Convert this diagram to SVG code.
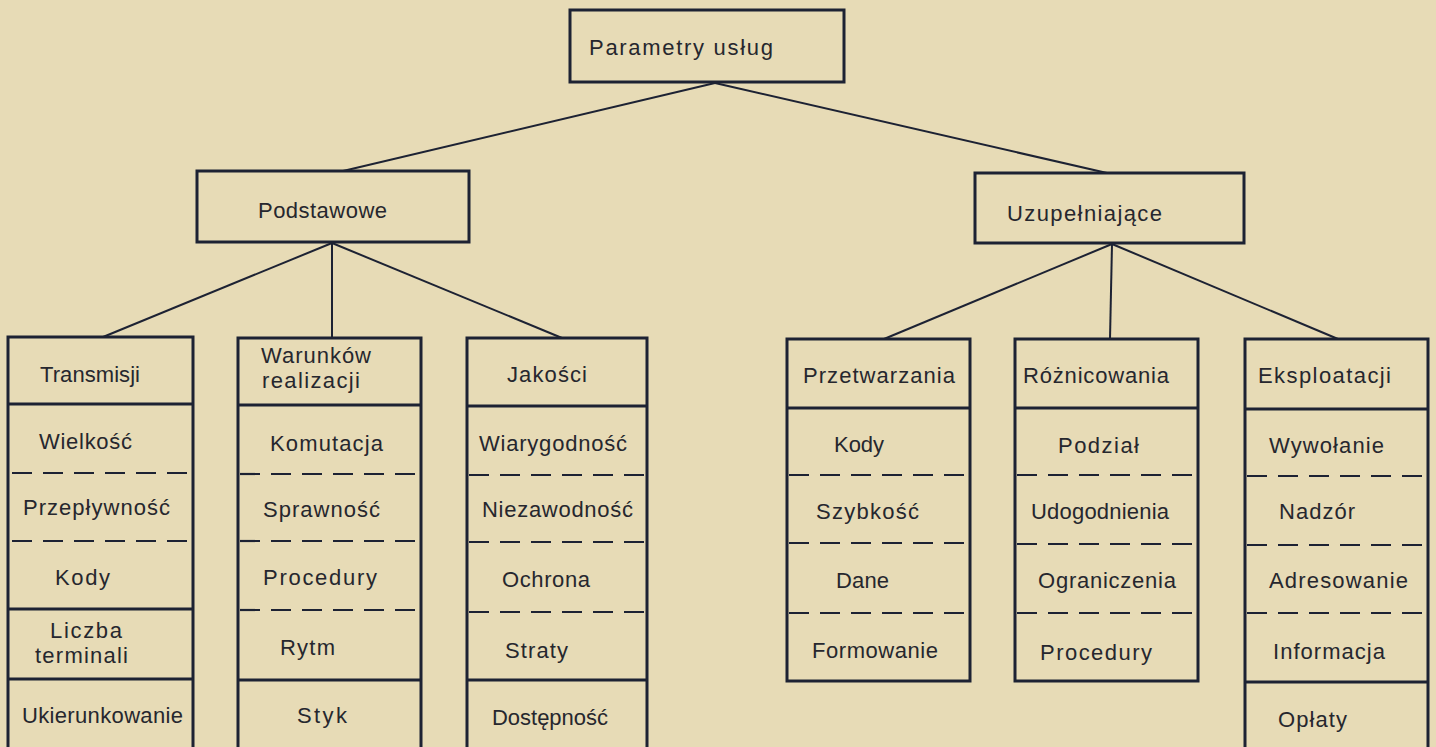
<svg xmlns="http://www.w3.org/2000/svg" width="1436" height="747" viewBox="0 0 1436 747">
<style>
.bg{fill:#e7dbb6}
.box{fill:none;stroke:#1d2233;stroke-width:3}
.sep{stroke:#1d2233;stroke-width:3}
.dash{stroke:#1d2233;stroke-width:2.2;stroke-dasharray:20 11}
.con{stroke:#1d2233;stroke-width:2;fill:none}
text{font-family:"Liberation Sans",Arial,sans-serif;font-size:22px;fill:#26272e}
</style>
<rect class="bg" x="0" y="0" width="1436" height="747"/>
<g id="connectors">
<line class="con" x1="715" y1="83" x2="343" y2="171"/>
<line class="con" x1="715" y1="83" x2="1107" y2="173"/>
<line class="con" x1="332" y1="243" x2="103" y2="337"/>
<line class="con" x1="332" y1="243" x2="332" y2="338"/>
<line class="con" x1="332" y1="243" x2="562" y2="338"/>
<line class="con" x1="1112" y1="244" x2="884" y2="339"/>
<line class="con" x1="1112" y1="244" x2="1110" y2="339"/>
<line class="con" x1="1112" y1="244" x2="1338" y2="339"/>
</g>
<g id="node-parametry">
<rect class="box" x="570" y="10" width="274" height="72"/>
<text x="589" y="55" textLength="184">Parametry usług</text>
</g>
<g id="node-podstawowe">
<rect class="box" x="197" y="171" width="272" height="71"/>
<text x="258" y="218" textLength="129">Podstawowe</text>
</g>
<g id="node-uzupelniajace">
<rect class="box" x="975" y="173" width="269" height="70"/>
<text x="1007" y="221" textLength="155">Uzupełniające</text>
</g>
<g id="node-transmisji">
<path class="box" d="M8,760 V337 H193 V760"/>
<line class="sep" x1="8" y1="404" x2="193" y2="404"/>
<line class="dash" x1="12" y1="473" x2="193" y2="473"/>
<line class="dash" x1="12" y1="541" x2="193" y2="541"/>
<line class="sep" x1="8" y1="609" x2="193" y2="609"/>
<line class="sep" x1="8" y1="679" x2="193" y2="679"/>
<text x="40" y="382" textLength="100">Transmisji</text>
<text x="39" y="449" textLength="93">Wielkość</text>
<text x="23" y="515" textLength="147">Przepływność</text>
<text x="55" y="585" textLength="55">Kody</text>
<text x="50" y="638" textLength="72">Liczba</text>
<text x="35" y="663" textLength="93">terminali</text>
<text x="22" y="723" textLength="161">Ukierunkowanie</text>
</g>
<g id="node-warunkow">
<path class="box" d="M238,760 V338 H421 V760"/>
<line class="sep" x1="238" y1="405" x2="421" y2="405"/>
<line class="dash" x1="240" y1="474" x2="421" y2="474"/>
<line class="dash" x1="240" y1="541" x2="421" y2="541"/>
<line class="dash" x1="240" y1="610" x2="421" y2="610"/>
<line class="sep" x1="238" y1="680" x2="421" y2="680"/>
<text x="261" y="363" textLength="110">Warunków</text>
<text x="262" y="388" textLength="98">realizacji</text>
<text x="270" y="451" textLength="113">Komutacja</text>
<text x="263" y="517" textLength="117">Sprawność</text>
<text x="263" y="585" textLength="114">Procedury</text>
<text x="280" y="655" textLength="55">Rytm</text>
<text x="297" y="723" textLength="50">Styk</text>
</g>
<g id="node-jakosci">
<path class="box" d="M467,760 V338 H647 V760"/>
<line class="sep" x1="467" y1="406" x2="647" y2="406"/>
<line class="dash" x1="469" y1="475" x2="647" y2="475"/>
<line class="dash" x1="469" y1="542" x2="647" y2="542"/>
<line class="dash" x1="469" y1="612" x2="647" y2="612"/>
<line class="sep" x1="467" y1="680" x2="647" y2="680"/>
<text x="507" y="382" textLength="80">Jakości</text>
<text x="479" y="451" textLength="148">Wiarygodność</text>
<text x="482" y="517" textLength="151">Niezawodność</text>
<text x="502" y="587" textLength="88">Ochrona</text>
<text x="505" y="658" textLength="63">Straty</text>
<text x="492" y="725" textLength="116">Dostępność</text>
</g>
<g id="node-przetwarzania">
<rect class="box" x="787" y="339" width="183" height="342"/>
<line class="sep" x1="787" y1="408" x2="970" y2="408"/>
<line class="dash" x1="789" y1="475" x2="970" y2="475"/>
<line class="dash" x1="789" y1="543" x2="970" y2="543"/>
<line class="dash" x1="789" y1="613" x2="970" y2="613"/>
<text x="803" y="383" textLength="152">Przetwarzania</text>
<text x="834" y="452" textLength="50">Kody</text>
<text x="816" y="519" textLength="103">Szybkość</text>
<text x="836" y="588" textLength="53">Dane</text>
<text x="812" y="658" textLength="126">Formowanie</text>
</g>
<g id="node-roznicowania">
<rect class="box" x="1015" y="339" width="183" height="342"/>
<line class="sep" x1="1015" y1="408" x2="1198" y2="408"/>
<line class="dash" x1="1017" y1="475" x2="1198" y2="475"/>
<line class="dash" x1="1017" y1="544" x2="1198" y2="544"/>
<line class="dash" x1="1017" y1="613" x2="1198" y2="613"/>
<text x="1023" y="383" textLength="146">Różnicowania</text>
<text x="1058" y="453" textLength="81">Podział</text>
<text x="1031" y="519" textLength="138">Udogodnienia</text>
<text x="1038" y="588" textLength="138">Ograniczenia</text>
<text x="1040" y="660" textLength="112">Procedury</text>
</g>
<g id="node-eksploatacji">
<path class="box" d="M1245,760 V339 H1428 V760"/>
<line class="sep" x1="1245" y1="409" x2="1428" y2="409"/>
<line class="dash" x1="1247" y1="476" x2="1428" y2="476"/>
<line class="dash" x1="1247" y1="545" x2="1428" y2="545"/>
<line class="dash" x1="1247" y1="613" x2="1428" y2="613"/>
<line class="sep" x1="1245" y1="682" x2="1428" y2="682"/>
<text x="1258" y="383" textLength="133">Eksploatacji</text>
<text x="1269" y="453" textLength="115">Wywołanie</text>
<text x="1279" y="519" textLength="76">Nadzór</text>
<text x="1269" y="588" textLength="139">Adresowanie</text>
<text x="1273" y="659" textLength="112">Informacja</text>
<text x="1278" y="727" textLength="69">Opłaty</text>
</g>
</svg>
